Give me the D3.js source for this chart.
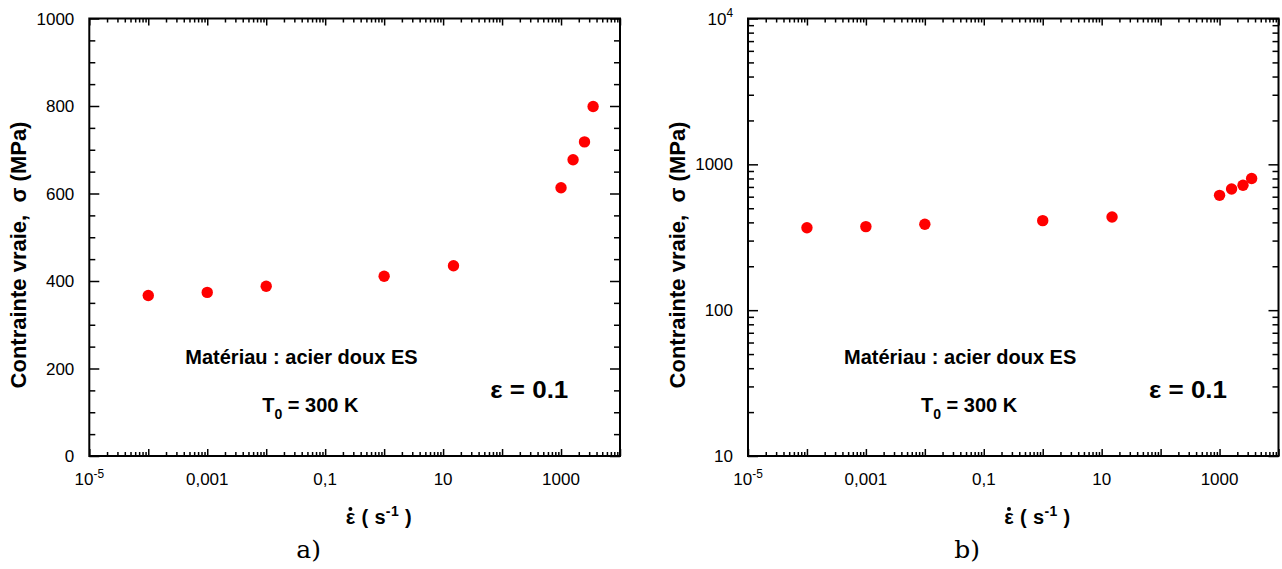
<!DOCTYPE html>
<html><head><meta charset="utf-8">
<script src="https://cdn.jsdelivr.net/npm/d3@7"></script>
<style>
body{margin:0;background:#fff}
text{font-family:"Liberation Sans",Arial,sans-serif;white-space:pre;fill:#000}
</style></head>
<body><script>
// ---- data ----
const strainRate = [1e-4, 1e-3, 1e-2, 1, 15, 1000, 1600, 2500, 3500];
const trueStress = [367, 374, 388, 411, 435, 613, 677, 718, 799];
const xTickValues = [1e-5, 1e-3, 1e-1, 10, 1000];
const xTickLabels = ["10^-5", "0,001", "0,1", "10", "1000"];
const yLinTickValues = [0, 200, 400, 600, 800, 1000];
const yLinTickLabels = ["0", "200", "400", "600", "800", "1000"];
const yLogTickValues = [10, 100, 1000, 10000];
const yLogTickLabels = ["10", "100", "1000", "10^4"];
const yAxisTitle = "Contrainte vraie,  σ (MPa)";
const xAxisTitle = "ε ( s^-1 )";
const materialNote = "Matériau : acier doux ES";
const temperatureNote = "T_0 = 300 K";
const strainNote = "ε = 0.1";
const panelTags = ["a)", "b)"];

// ---- layout ----
const W = 1282, H = 569;
const plotTop = 18.5, plotBottom = 456;
const panels = [
  {left: 89.3, right: 620, type: "lin"},
  {left: 748, right: 1278.5, type: "log"}
];

const svg = d3.select("body").append("svg").attr("width", W).attr("height", H);
svg.append("rect").attr("width", W).attr("height", H).attr("fill", "#fff");

function rich(parent, s, x, y, anchor, size, weight) {
  const t = parent.append("text").attr("x", x).attr("y", y)
    .attr("text-anchor", anchor).attr("font-size", size).attr("font-weight", weight || "normal");
  const parts = s.split(/(\^\S+|_\S+)/).filter(p => p.length);
  let shift = 0;
  parts.forEach(p => {
    const ts = t.append("tspan");
    if (p[0] === "^") {
      const d = -0.42 * size;
      ts.attr("dy", d - shift).attr("font-size", size * 0.7).text(p.slice(1)); shift = d;
    } else if (p[0] === "_") {
      const d = 0.33 * size;
      ts.attr("dy", d - shift).attr("font-size", size * 0.7).text(p.slice(1)); shift = d;
    } else {
      if (shift !== 0) ts.attr("dy", -shift);
      shift = 0;
      ts.text(p);
    }
  });
  return t;
}

const xMinor = [], xMajor = d3.range(-5, 5).map(e => Math.pow(10, e));
d3.range(-5, 4).forEach(e => d3.range(2, 10).forEach(m => xMinor.push(m * Math.pow(10, e))));

panels.forEach((P, i) => {
  const g = svg.append("g");
  const x = d3.scaleLog().domain([1e-5, 1e4]).range([P.left, P.right]);
  let y, yMajor, yMinor, yLabels;
  if (P.type === "lin") {
    y = d3.scaleLinear().domain([0, 1000]).range([plotBottom, plotTop]);
    yMajor = yLinTickValues; yLabels = yLinTickLabels;
    yMinor = d3.range(0, 1001, 50).filter(v => v % 200 !== 0);
  } else {
    y = d3.scaleLog().domain([10, 1e4]).range([plotBottom, plotTop]);
    yMajor = yLogTickValues; yLabels = yLogTickLabels;
    yMinor = [];
    d3.range(1, 4).forEach(e => d3.range(2, 10).forEach(m => yMinor.push(m * Math.pow(10, e))));
  }

  const axes = [
    [d3.axisBottom(x).tickValues(xMinor).tickSize(-4), `translate(0,${plotBottom})`],
    [d3.axisBottom(x).tickValues(xMajor).tickSize(-7), `translate(0,${plotBottom})`],
    [d3.axisTop(x).tickValues(xMinor).tickSize(-4), `translate(0,${plotTop})`],
    [d3.axisTop(x).tickValues(xMajor).tickSize(-7), `translate(0,${plotTop})`],
    [d3.axisLeft(y).tickValues(yMinor).tickSize(-6), `translate(${P.left},0)`],
    [d3.axisLeft(y).tickValues(yMajor).tickSize(-10), `translate(${P.left},0)`],
    [d3.axisRight(y).tickValues(yMinor).tickSize(-6), `translate(${P.right},0)`],
    [d3.axisRight(y).tickValues(yMajor).tickSize(-10), `translate(${P.right},0)`]
  ];
  axes.forEach(([ax, tr]) => {
    const a = g.append("g").attr("transform", tr).call(ax.tickFormat("").tickSizeOuter(0));
    a.select(".domain").remove();
    a.selectAll("line").attr("stroke", "#000").attr("stroke-width", 1.5);
  });
  g.append("rect").attr("x", P.left).attr("y", plotTop)
    .attr("width", P.right - P.left).attr("height", plotBottom - plotTop)
    .attr("fill", "none").attr("stroke", "#000").attr("stroke-width", 2);

  // tick labels
  xTickValues.forEach((v, k) => rich(g, xTickLabels[k], x(v), plotBottom + 29, "middle", 17));
  yMajor.forEach((v, k) => rich(g, yLabels[k], P.left - 15, y(v) + 6, "end", 17));

  // points
  g.selectAll("circle.pt").data(strainRate).enter().append("circle")
    .attr("class", "pt")
    .attr("cx", d => x(d))
    .attr("cy", (d, k) => y(trueStress[k]))
    .attr("r", 5.7).attr("fill", "#ff0000");

  // axis titles
  g.append("text")
    .attr("transform", `translate(${P.left - 63},255) rotate(-90)`)
    .attr("text-anchor", "middle").attr("font-size", 22).attr("font-weight", "bold")
    .text(yAxisTitle);
  const cx = (P.left + P.right) / 2;
  const xt = rich(g, xAxisTitle, cx + 24, 524, "middle", 20, "bold")
    .attr("textLength", 66).attr("lengthAdjust", "spacing");
  const ext = xt.node().getExtentOfChar(0);
  g.append("circle").attr("cx", ext.x + ext.width / 2).attr("cy", 509).attr("r", 2).attr("fill", "#000");

  // annotations
  rich(g, materialNote, P.left + 96, 364, "start", 20, "bold");
  rich(g, temperatureNote, P.left + 173, 412, "start", 20, "bold");
  rich(g, strainNote, P.left + 401, 398, "start", 23, "bold")
    .attr("textLength", 78).attr("lengthAdjust", "spacingAndGlyphs");

  g.append("text").attr("x", cx - 46).attr("y", 558).attr("text-anchor", "middle")
    .attr("font-size", 25).attr("style", "font-family:'DejaVu Serif',serif")
    .text(panelTags[i]);
});
</script></body></html>
